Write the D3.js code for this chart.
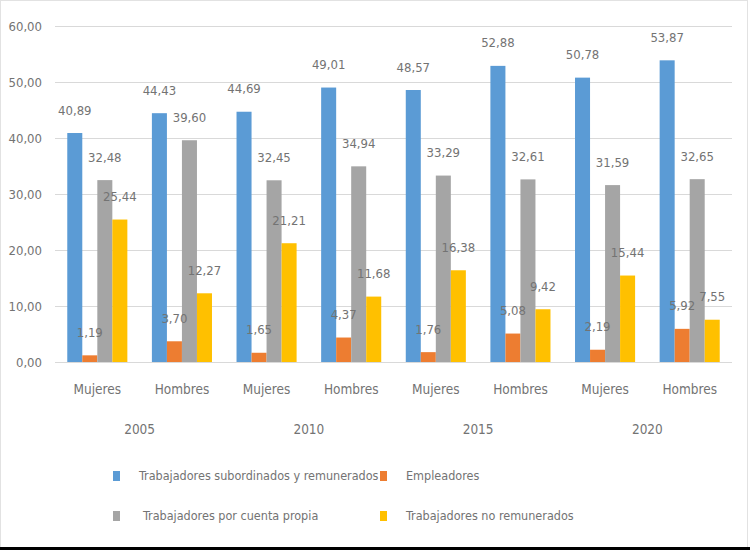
<!DOCTYPE html>
<html>
<head>
<meta charset="utf-8">
<script src="https://cdn.jsdelivr.net/npm/d3@7/dist/d3.min.js"></script>
<style>
  html, body { margin: 0; padding: 0; background: #fff; }
  svg { display: block; }
  text { font-family: "Liberation Sans Narrow", "DejaVu Sans Condensed", "Roboto", sans-serif; fill: #737373; }
</style>
</head>
<body>
<div id="chart"></div>
<script>
// datos: porcentaje por posición en la ocupación
const years = ['2005', '2010', '2015', '2020'];
const sexes = ['Mujeres', 'Hombres'];
const seriesNames = [
  'Trabajadores subordinados y remunerados',
  'Empleadores',
  'Trabajadores por cuenta propia',
  'Trabajadores no remunerados'
];
const subordinados  = [40.89, 44.43, 44.69, 49.01, 48.57, 52.88, 50.78, 53.87];
const empleadores   = [1.19, 3.70, 1.65, 4.37, 1.76, 5.08, 2.19, 5.92];
const cuentaPropia  = [32.48, 39.60, 32.45, 34.94, 33.29, 32.61, 31.59, 32.65];
const noRemunerados = [25.44, 12.27, 21.21, 11.68, 16.38, 9.42, 15.44, 7.55];
const yTicks = [0, 10, 20, 30, 40, 50, 60];

const COLORS = ['#5B9BD5', '#ED7D31', '#A5A5A5', '#FFC000'];
const W = 750, H = 550;
const M = { left: 55, right: 18, top: 26, bottom: 188 };
const FS = 13;

const loc = d3.formatLocale({ decimal: ',', thousands: '.', grouping: [3], currency: ['', ''] });
const fmt = loc.format('.2f');

// grupos: año × sexo
const groups = [];
years.forEach((yr) => sexes.forEach((s) => groups.push({ year: yr, sex: s, key: yr + '-' + s })));
const values = [subordinados, empleadores, cuentaPropia, noRemunerados];
const rows = groups.map((g, i) => ({ ...g, vals: values.map((arr, k) => ({ k, v: arr[i] })) }));

const svg = d3.select('#chart').append('svg').attr('width', W).attr('height', H);

// marco
svg.append('rect').attr('x', 0.5).attr('y', 0.5).attr('width', 747).attr('height', 547)
  .attr('fill', 'none').attr('stroke', '#e2e2e2');
svg.append('rect').attr('x', 0).attr('y', 547).attr('width', W).attr('height', 3).attr('fill', '#000');

const x0 = d3.scaleBand().domain(groups.map((g) => g.key))
  .range([M.left, W - M.right]).paddingInner(0.29).paddingOuter(0.145);
const x1 = d3.scaleBand().domain(d3.range(seriesNames.length)).range([0, x0.bandwidth()]);
const y = d3.scaleLinear().domain([0, 60]).range([H - M.bottom, M.top]);

// rejilla
svg.append('g').selectAll('line').data(yTicks).join('line')
  .attr('x1', M.left).attr('x2', W - M.right)
  .attr('y1', (d) => Math.round(y(d)) + 0.5).attr('y2', (d) => Math.round(y(d)) + 0.5)
  .attr('stroke', '#d9d9d9').attr('stroke-width', 1);

svg.append('g').selectAll('text').data(yTicks).join('text')
  .attr('x', 42).attr('y', (d) => y(d)).attr('dy', '0.35em')
  .attr('text-anchor', 'end').attr('font-size', FS)
  .text((d) => fmt(d));

// barras
const gg = svg.append('g').selectAll('g').data(rows).join('g')
  .attr('transform', (d) => `translate(${x0(d.key)},0)`);

gg.selectAll('rect').data((d) => d.vals).join('rect')
  .attr('x', (d) => x1(d.k)).attr('width', x1.bandwidth())
  .attr('y', (d) => y(d.v)).attr('height', (d) => y(0) - y(d.v))
  .attr('fill', (d) => COLORS[d.k]);

gg.selectAll('text').data((d) => d.vals).join('text')
  .attr('x', (d) => x1(d.k) + x1.bandwidth() / 2)
  .attr('y', (d) => y(d.v) - 23).attr('dy', '0.35em')
  .attr('text-anchor', 'middle').attr('font-size', FS)
  .text((d) => fmt(d.v));

// eje de categorías
svg.append('g').selectAll('text').data(groups).join('text')
  .attr('x', (d) => x0(d.key) + x0.bandwidth() / 2).attr('y', 389).attr('dy', '0.35em')
  .attr('text-anchor', 'middle').attr('font-size', FS + 0.5)
  .text((d) => d.sex);

svg.append('g').selectAll('text').data(years).join('text')
  .attr('x', (yr) => (x0(yr + '-' + sexes[0]) + x0(yr + '-' + sexes[1]) + x0.bandwidth()) / 2)
  .attr('y', 429).attr('dy', '0.35em')
  .attr('text-anchor', 'middle').attr('font-size', FS + 0.5)
  .text((yr) => yr);

// leyenda 2×2
const legCol = d3.scaleOrdinal().domain([0, 1]).range([113, 380]);
const legRow = d3.scaleOrdinal().domain([0, 1]).range([476, 516]);
const lg = svg.append('g').selectAll('g').data(seriesNames).join('g')
  .attr('transform', (d, i) => `translate(${legCol(i % 2)},${legRow(Math.floor(i / 2))})`);
lg.append('rect').attr('x', 0).attr('y', -5).attr('width', 7).attr('height', 10)
  .attr('fill', (d, i) => COLORS[i]);
lg.append('text').attr('x', (d, i) => i === 2 ? 30 : 26).attr('y', 0).attr('dy', '0.35em')
  .attr('font-size', 12.5).text((d) => d);
</script>
</body>
</html>
